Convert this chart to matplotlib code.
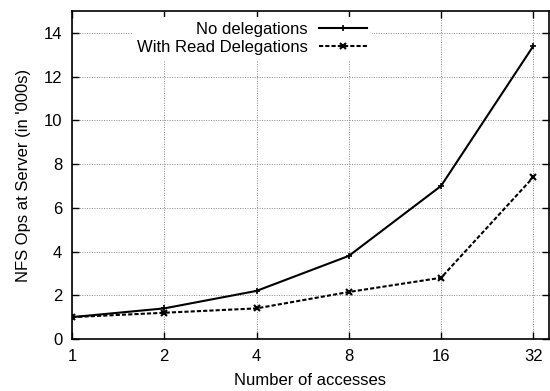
import matplotlib
matplotlib.use("Agg")
import matplotlib.pyplot as plt

plt.rcParams['font.family'] = ['Liberation Sans', 'DejaVu Sans']

accesses = [1, 2, 4, 8, 16, 32]
no_deleg = [1.0, 1.4, 2.2, 3.8, 7.0, 13.4]
read_deleg = [1.0, 1.2, 1.4, 2.15, 2.8, 7.4]
yticks = [0, 2, 4, 6, 8, 10, 12, 14]

fig = plt.figure(figsize=(5.5, 3.91), dpi=100)
ax = fig.add_axes([72/550, 1-339/391, (549-72)/550, (339-11)/391])

ax.plot(accesses, no_deleg, color='black', lw=1.5, marker='+', ms=4, mew=1.2,
        label='No delegations')
ax.plot(accesses, read_deleg, color='black', lw=1.5, ls=(0, (2, 1)), marker='x', ms=4, mew=1.5,
        label='With Read Delegations')

ax.set_xscale('log', base=2)
ax.set_xlim(1, 36)
ax.set_ylim(0, 15)
ax.set_xticks(accesses)
ax.set_xticklabels([str(a) for a in accesses])
ax.minorticks_off()
ax.set_yticks(yticks)
ax.tick_params(direction='in', top=True, right=True, length=5, width=1, labelsize=12, pad=7)
ax.grid(True, ls=(0, (1, 1.5)), color='#888888', lw=0.7)
for s in ax.spines.values():
    s.set_linewidth(1.2)

ax.set_xlabel('Number of accesses', fontsize=12, labelpad=7)
ax.set_ylabel("NFS Ops at Server (in '000s)", fontsize=12, labelpad=9)

leg = ax.legend(loc='upper right', bbox_to_anchor=(0.629, 0.982), markerfirst=False, frameon=True,
                fontsize=12, handlelength=2.9, borderpad=0.3, labelspacing=0.2,
                handletextpad=0.65, fancybox=False, borderaxespad=0.0)
leg.get_frame().set_facecolor('white')
leg.get_frame().set_edgecolor('none')
leg.get_frame().set_alpha(1)
for t in leg.get_texts():
    t.set_ha('right')
leg._legend_box.align = 'right'

fig.savefig('out.png', dpi=100)
